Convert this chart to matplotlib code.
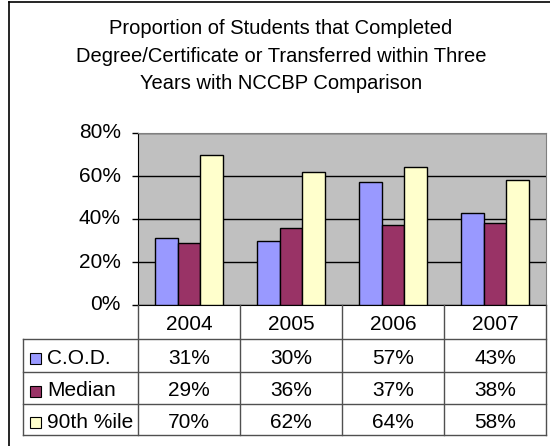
import matplotlib
matplotlib.use("Agg")
import matplotlib.pyplot as plt
from matplotlib.patches import Rectangle
import numpy as np

plt.rcParams['font.family'] = ['Liberation Sans', 'DejaVu Sans']

# Data
years = ["2004", "2005", "2006", "2007"]
series_names = ["C.O.D.", "Median", "90th %ile"]
cod = [31, 30, 57, 43]
median = [29, 36, 37, 38]
p90 = [70, 62, 64, 58]
series_values = [cod, median, p90]
series_colors = ["#9999FF", "#993366", "#FFFFCC"]
yticks = [0, 20, 40, 60, 80]
title = ("Proportion of Students that Completed\n"
         "Degree/Certificate or Transferred within Three\n"
         "Years with NCCBP Comparison")

W, H = 550, 446
DPI = 100
FS = 15
fig = plt.figure(figsize=(W / DPI, H / DPI), dpi=DPI)
fig.patch.set_facecolor("white")

# Plot area geometry in pixels
px_left, px_right = 138, 546
px_top, px_bottom = 133, 305

ax = fig.add_axes([px_left / W, (H - px_bottom) / H,
                   (px_right - px_left) / W, (px_bottom - px_top) / H])
ax.set_facecolor("#C0C0C0")

n_cat = len(years)
n_ser = len(series_values)
bar_w = 1.0 / (n_ser + 1.5)
x = np.arange(n_cat)
for i, (vals, col) in enumerate(zip(series_values, series_colors)):
    offs = (i - (n_ser - 1) / 2) * bar_w
    ax.bar(x + offs, vals, width=bar_w, color=col, edgecolor="black",
           linewidth=1.0, zorder=3)

ax.set_xlim(-0.5, n_cat - 0.5)
ax.set_ylim(0, 80)
ax.set_yticks(yticks)
ax.set_yticklabels([f"{t}%" for t in yticks], fontsize=FS)
for lbl in ax.get_yticklabels():
    lbl.set_va("center")
ax.yaxis.grid(True, color="black", linewidth=1.0, zorder=1)
ax.set_xticks([])
ax.tick_params(axis="y", direction="out", length=4.5, width=1, pad=8)
for side in ["top", "right"]:
    ax.spines[side].set_color("#808080")
ax.spines["left"].set_color("black")
ax.spines["bottom"].set_color("black")

# Overlay in pixel coordinates for title, table and frame
ov = fig.add_axes([0, 0, 1, 1], zorder=5)
ov.set_xlim(0, W)
ov.set_ylim(H, 0)
ov.axis("off")
ov.patch.set_alpha(0)

# Chart-area frame
ov.plot([9, 9], [2, H], color="black", lw=1.2)
ov.plot([9, W], [2, 2], color="black", lw=1.2)

ov.text(281, 56, title, ha="center", va="center", fontsize=14.5,
        linespacing=1.58)

# Data table under the plot
cat_w = (px_right - px_left) / n_cat
col_edges = [px_left + i * cat_w for i in range(n_cat + 1)]
row_edges = [305, 339, 372, 404, 435]
tab_left = 23
lc = "#505050"

# header row (years)
for xe in col_edges:
    ov.plot([xe, xe], [row_edges[0], row_edges[-1]], color=lc, lw=1)
for yr_i, yr in enumerate(years):
    cx = (col_edges[yr_i] + col_edges[yr_i + 1]) / 2
    ov.text(cx, (row_edges[0] + row_edges[1]) / 2 + 2, yr, ha="center",
            va="center", fontsize=FS)

for r in range(1, len(row_edges)):
    ov.plot([tab_left, px_right], [row_edges[r], row_edges[r]], color=lc, lw=1)
ov.plot([tab_left, tab_left], [row_edges[1], row_edges[-1]], color=lc, lw=1)

for s, (name, vals, col) in enumerate(zip(series_names, series_values,
                                           series_colors)):
    cy = (row_edges[s + 1] + row_edges[s + 2]) / 2 + 3
    ov.add_patch(Rectangle((30, cy - 5.5), 11, 11, facecolor=col,
                           edgecolor="black", lw=0.8))
    ov.text(47, cy, name, ha="left", va="center", fontsize=FS)
    for c, v in enumerate(vals):
        cx = (col_edges[c] + col_edges[c + 1]) / 2
        ov.text(cx, cy, f"{v}%", ha="center", va="center", fontsize=FS)

fig.savefig("out.png", dpi=DPI)
